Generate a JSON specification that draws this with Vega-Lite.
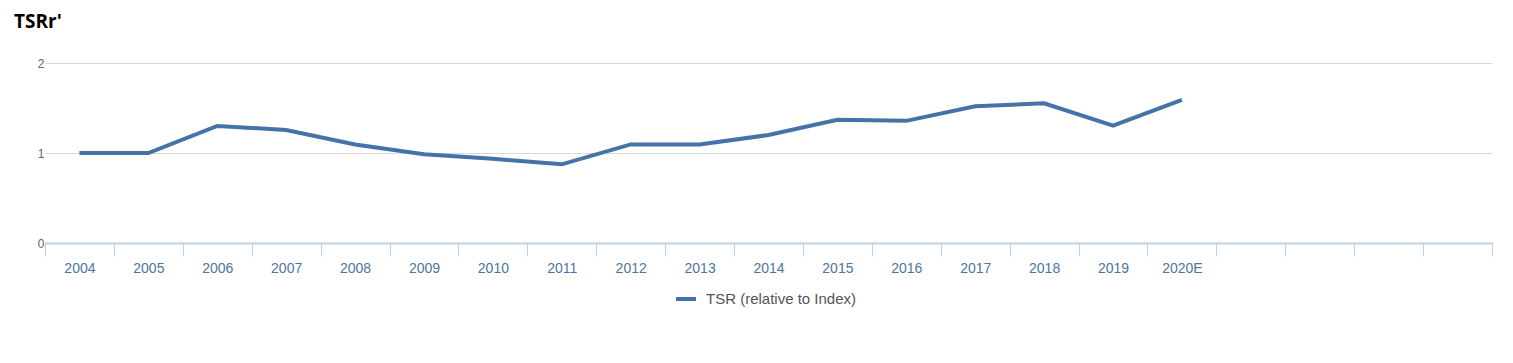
{
  "$schema": "https://vega.github.io/schema/vega-lite/v6.json",
  "width": 1447,
  "height": 180,
  "autosize": {"type": "none"},
  "padding": {"left": 45, "top": 63, "right": 21, "bottom": 120},
  "background": "white",
  "title": {
    "text": "TSRr'",
    "anchor": "start",
    "frame": "group",
    "dx": -31,
    "offset": 25,
    "font": "Open Sans",
    "fontSize": 19,
    "fontWeight": "bold",
    "color": "#000000"
  },
  "data": {
    "values": [
      {"year": "2004", "tsr": 1.0, "series": "TSR (relative to Index)"},
      {"year": "2005", "tsr": 1.0, "series": "TSR (relative to Index)"},
      {"year": "2006", "tsr": 1.3, "series": "TSR (relative to Index)"},
      {"year": "2007", "tsr": 1.256, "series": "TSR (relative to Index)"},
      {"year": "2008", "tsr": 1.095, "series": "TSR (relative to Index)"},
      {"year": "2009", "tsr": 0.985, "series": "TSR (relative to Index)"},
      {"year": "2010", "tsr": 0.935, "series": "TSR (relative to Index)"},
      {"year": "2011", "tsr": 0.874, "series": "TSR (relative to Index)"},
      {"year": "2012", "tsr": 1.095, "series": "TSR (relative to Index)"},
      {"year": "2013", "tsr": 1.095, "series": "TSR (relative to Index)"},
      {"year": "2014", "tsr": 1.2, "series": "TSR (relative to Index)"},
      {"year": "2015", "tsr": 1.37, "series": "TSR (relative to Index)"},
      {"year": "2016", "tsr": 1.357, "series": "TSR (relative to Index)"},
      {"year": "2017", "tsr": 1.52, "series": "TSR (relative to Index)"},
      {"year": "2018", "tsr": 1.552, "series": "TSR (relative to Index)"},
      {"year": "2019", "tsr": 1.305, "series": "TSR (relative to Index)"},
      {"year": "2020E", "tsr": 1.59, "series": "TSR (relative to Index)"}
    ]
  },
  "mark": {"type": "line", "strokeWidth": 4},
  "encoding": {
    "x": {
      "field": "year",
      "type": "nominal",
      "scale": {
        "type": "band",
        "domain": ["2004","2005","2006","2007","2008","2009","2010","2011","2012","2013","2014","2015","2016","2017","2018","2019","2020E"," ","  ","   ","    "],
        "paddingInner": 0,
        "paddingOuter": 0
      },
      "axis": {
        "title": null,
        "labelAngle": 0,
        "tickBand": "extent",
        "tickSize": 13,
        "tickColor": "#C0D0E0",
        "domainColor": "#C0D0E0",
        "domainWidth": 2,
        "labelColor": "#4d759e",
        "labelFont": "Liberation Sans",
        "labelFontSize": 14,
        "labelPadding": 5,
        "grid": false
      }
    },
    "y": {
      "field": "tsr",
      "type": "quantitative",
      "scale": {"domain": [0, 2], "nice": false},
      "axis": {
        "title": null,
        "tickCount": 2,
        "domain": false,
        "ticks": false,
        "grid": true,
        "gridColor": "#d8d8d8",
        "labelColor": "#666666",
        "labelFont": "Liberation Sans",
        "labelFontSize": 12,
        "labelPadding": 1
      }
    },
    "color": {
      "field": "series",
      "type": "nominal",
      "scale": {"range": ["#4572a7"]},
      "legend": {
        "title": null,
        "orient": "none",
        "legendX": 629,
        "legendY": 224,
        "direction": "horizontal",
        "symbolType": "stroke",
        "symbolStrokeWidth": 4,
        "symbolSize": 400,
        "labelOffset": 8,
        "labelFont": "Liberation Sans",
        "labelFontSize": 15,
        "labelColor": "#555555"
      }
    }
  },
  "config": {"view": {"stroke": null}}
}
